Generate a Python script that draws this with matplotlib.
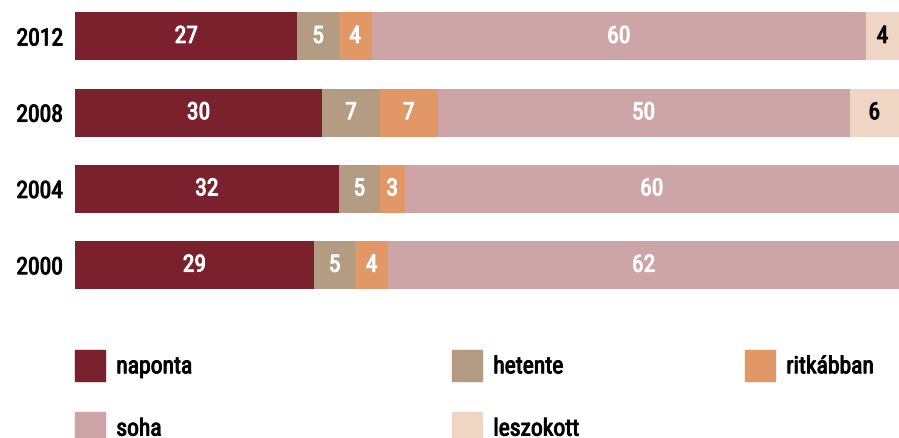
import matplotlib
matplotlib.use("Agg")
import matplotlib.pyplot as plt
import matplotlib.patches as pc
import matplotlib.patheffects as pe
from matplotlib import font_manager as fm
import numpy as np

years = ["2012", "2008", "2004", "2000"]
naponta = [27, 30, 32, 29]
hetente = [5, 7, 5, 5]
ritkabban = [4, 7, 3, 4]
soha = [60, 50, 60, 62]
leszokott = [4, 6, 0, 0]

series = [naponta, hetente, ritkabban, soha, leszokott]
names = ["naponta", "hetente", "ritkábban", "soha", "leszokott"]
colors = ["#7b212d", "#b49c82", "#e29866", "#cda5a6", "#efd6c4"]
txt_colors = ["white", "white", "white", "white", "black"]

avail = set(f.name for f in fm.fontManager.ttflist)
fam = [f for f in ["Roboto Condensed", "Liberation Sans Narrow", "Roboto", "DejaVu Sans"] if f in avail]
plt.rcParams["font.family"] = fam

def thick(c):
    # regular is a bit too light, bold too heavy
    return [pe.withStroke(linewidth=0.7, foreground=c)]

fig = plt.figure(figsize=(8.99, 4.39), dpi=100)
ax = fig.add_axes([75 / 899, 1 - 305 / 439, 1 - 75 / 899, 305 / 439])

xmax = 100.0
ypos = np.arange(len(years))
left = np.zeros(len(years))
for vals, col, tc in zip(series, colors, txt_colors):
    vals = np.array(vals, dtype=float)
    ax.barh(ypos, vals, left=left, height=0.63, color=col, linewidth=0)
    for i, v in enumerate(vals):
        if v > 0:
            a, b = left[i], min(left[i] + v, xmax)
            ax.text((a + b) / 2, ypos[i], f"{int(v)}", ha="center", va="center",
                    color=tc, fontsize=17, path_effects=thick(tc))
    left += vals

ax.set_xlim(0, xmax)
ax.set_ylim(3.51, -0.49)
ax.set_yticks(ypos)
ax.set_yticklabels(years, fontsize=17)
for t in ax.get_yticklabels():
    t.set_path_effects(thick("black"))
ax.tick_params(axis="y", length=0, pad=8.5)
ax.set_xticks([])
for s in ax.spines.values():
    s.set_visible(False)

handles = [pc.Patch(color=c, label=n) for c, n in zip(colors, names)]
cols = [[0, 3], [1, 4], [2]]
col_x = [75, 452, 745]
for idx, x in zip(cols, col_x):
    leg = fig.legend(handles=[handles[i] for i in idx], loc="upper left",
                     bbox_to_anchor=(x / 899, 1 - 351 / 439), frameon=False,
                     fontsize=17, handlelength=1.25, handleheight=1.64,
                     handletextpad=0.5, labelspacing=1.33, borderpad=0, borderaxespad=0)
    for t in leg.get_texts():
        t.set_path_effects(thick("black"))

fig.savefig("out.png", dpi=100)
